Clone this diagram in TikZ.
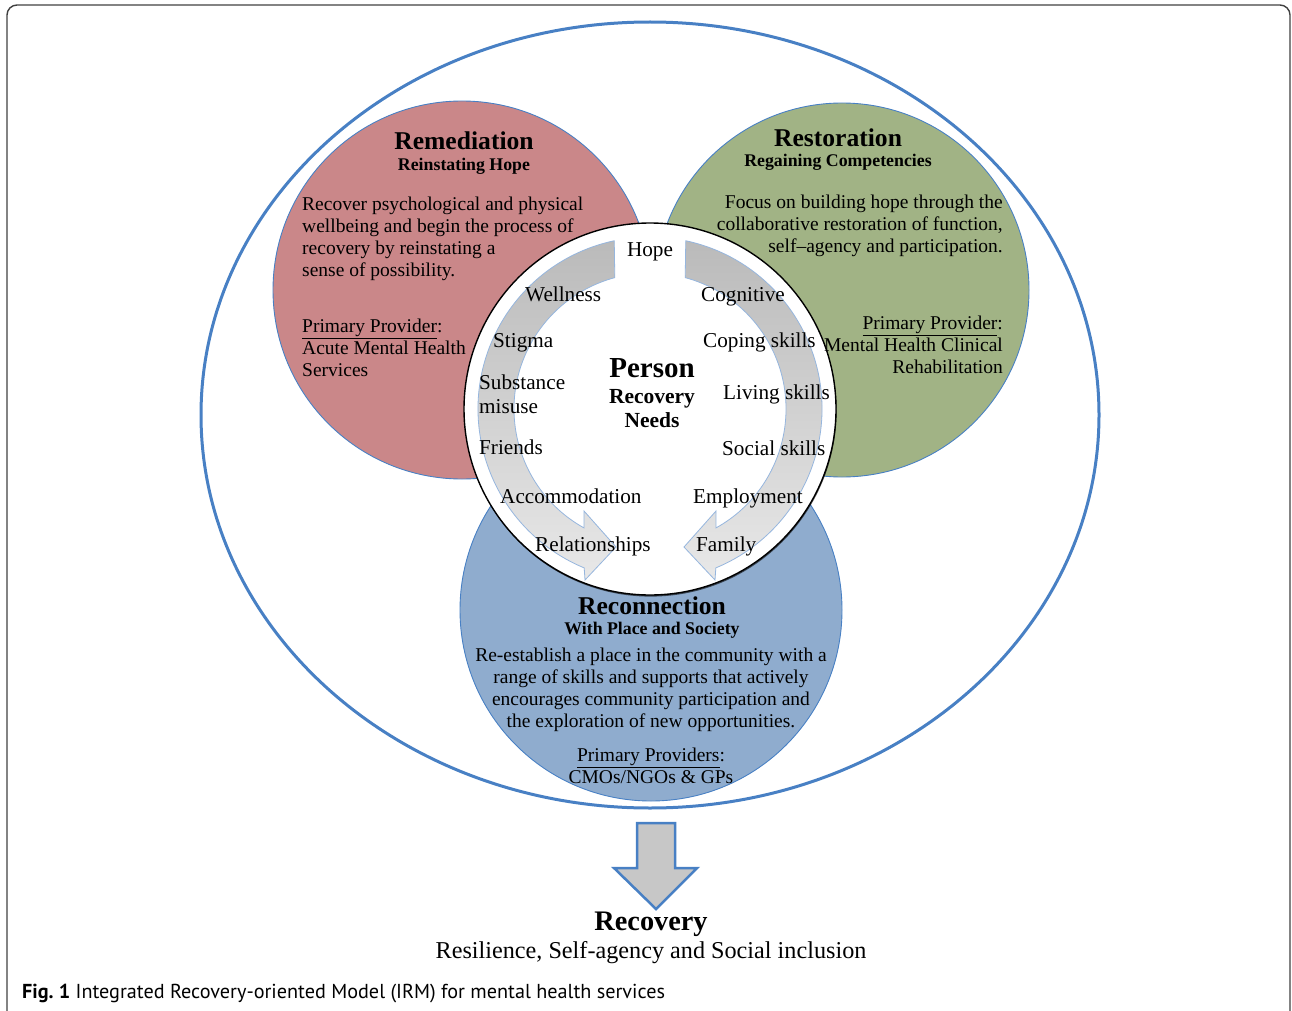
\documentclass[tikz,border=0pt]{standalone}
\usepackage{fontspec}
\setmainfont{Liberation Serif}
\newfontfamily\capfont{PT Sans}
\usetikzlibrary{calc, positioning, shadows}

\definecolor{remred}{RGB}{202,135,137}
\definecolor{resgreen}{RGB}{161,179,133}
\definecolor{recblue}{RGB}{143,172,206}
\definecolor{rimblue}{RGB}{72,128,196}
\definecolor{arrowedge}{RGB}{150,182,222}

\tikzset{
  sphere/.style={draw=rimblue, line width=0.9},
  heading/.style={inner sep=0pt, anchor=base, font=\fontsize{25.6}{28}\selectfont\bfseries},
  subheading/.style={inner sep=0pt, anchor=base, font=\fontsize{17.8}{20}\selectfont\bfseries},
  bodytxt/.style={inner sep=0pt, font=\fontsize{19.5}{21.7}\selectfont},
  need/.style={inner sep=0pt, anchor=base west, font=\fontsize{21.2}{23.5}\selectfont},
  loopArrow/.style={draw=arrowedge, line width=0.8, top color=black!27, bottom color=black!9}
}

\begin{document}
\begin{tikzpicture}[x=1pt, y=1pt]
  \clip (0,0) rectangle (1292,-1011);

  % frame of the figure
  \draw [black!75, line width=1.4, rounded corners=10] (7,-5) rectangle (1290,-1022);

  % outer ellipse and the three domains
  \draw [rimblue, line width=3] (650,-415) ellipse [x radius=449, y radius=393];
  \draw [sphere, fill=remred] (462,-290) circle [radius=189];
  \draw [sphere, fill=resgreen] (842,-290) circle [radius=187];
  \draw [sphere, fill=recblue] (651,-610) circle [radius=191];

  % person in the middle
  \coordinate (hub) at (650,-409);
  \draw [fill=white, line width=1.4,
         drop shadow={shadow xshift=0.6pt, shadow yshift=-1.6pt, opacity=0.6, fill=black}]
    (hub) circle [radius=186];

  \path [loopArrow] ($(hub)+(102:172)$) arc [start angle=102, end angle=247.5, radius=172]
    -- (585,-580) -- (616,-547) -- (584,-511) -- ($(hub)+(241:136)$)
    arc [start angle=241, end angle=105, radius=136] -- cycle;
  \path [loopArrow] ($(hub)+(78:172)$) arc [start angle=78, end angle=-67.5, radius=172]
    -- (715,-580) -- (684,-547) -- (716,-511) -- ($(hub)+(-61:136)$)
    arc [start angle=-61, end angle=75, radius=136] -- cycle;

  % remediation (base of a wrapped node = its last line)
  \node [heading] (remTitle) at (464,-150) {Remediation};
  \node [subheading] (remSub) at (464,-171) {Reinstating Hope};
  \node [bodytxt, anchor=base west, align=left] (remBody) at (302,-276)
    {Recover psychological and physical\\wellbeing and begin the process of\\recovery by reinstating a\\sense of possibility.};
  \node [bodytxt, anchor=base west, align=left] (remProv) at (302,-376)
    {\underline{Primary Provider}:\\Acute Mental Health\\Services};

  % restoration
  \node [heading] (resTitle) at (838,-147) {Restoration};
  \node [subheading] (resSub) at (838,-167) {Regaining Competencies};
  \node [bodytxt, anchor=base east, align=right] (resBody) at (1003,-252)
    {Focus on building hope through the\\collaborative restoration of function,\\self--agency and participation.};
  \node [bodytxt, anchor=base east, align=right] (resProv) at (1003,-373)
    {\underline{Primary Provider}:\\Mental Health Clinical\\Rehabilitation};

  % reconnection
  \node [heading] (recTitle) at (652,-614) {Reconnection};
  \node [subheading] (recSub) at (652,-634) {With Place and Society};
  \node [bodytxt, anchor=base, align=center] (recBody) at (651,-727)
    {Re-establish a place in the community with a\\range of skills and supports that actively\\encourages community participation and\\the exploration of new opportunities.};
  \node [bodytxt, anchor=base, align=center] (recProv) at (651,-783)
    {\underline{Primary Providers}:\\CMOs/NGOs \& GPs};

  % needs of the person
  \node [inner sep=0pt, anchor=base, font=\fontsize{29}{32}\selectfont\bfseries] (person) at (652,-377) {Person};
  \node [inner sep=0pt, anchor=base, align=center, font=\fontsize{21.5}{24}\selectfont\bfseries] (needs) at (652,-427) {Recovery\\Needs};
  \node [need, anchor=base] (hope) at (650,-256) {Hope};
  \node [need] (wellness) at (525,-301) {Wellness};
  \node [need] (cognitive) at (701,-301) {Cognitive};
  \node [need] (stigma) at (493,-347) {Stigma};
  \node [need] (coping) at (703,-347) {Coping skills};
  \node [need, align=left] (substance) at (479,-413) {Substance\\misuse};
  \node [need] (living) at (723,-399) {Living skills};
  \node [need] (friends) at (479,-454) {Friends};
  \node [need] (social) at (722,-455) {Social skills};
  \node [need] (accommodation) at (500,-503) {Accommodation};
  \node [need] (employment) at (693,-503) {Employment};
  \node [need] (relationships) at (535,-551) {Relationships};
  \node [need] (family) at (696,-551) {Family};

  % outcome
  \draw [rimblue, line width=2.5, fill=black!22, line join=miter]
    (637,-823) -- (675,-823) -- (675,-868) -- (697,-868) -- (656,-909)
    -- (614,-868) -- (637,-868) -- cycle;
  \node [inner sep=0pt, anchor=base, font=\fontsize{28.3}{31}\selectfont\bfseries] (recovery) at (651,-930) {Recovery};
  \node [inner sep=0pt, anchor=base, font=\fontsize{24.2}{27}\selectfont] (outcome) at (651,-958)
    {Resilience, Self-agency and Social inclusion};

  % caption
  \node [inner sep=0pt, anchor=base west, font=\capfont\fontsize{20.2}{23}\selectfont] (caption) at (22,-998)
    {\textbf{Fig.~1} Integrated Recovery-oriented Model (IRM) for mental health services};
\end{tikzpicture}
\end{document}
